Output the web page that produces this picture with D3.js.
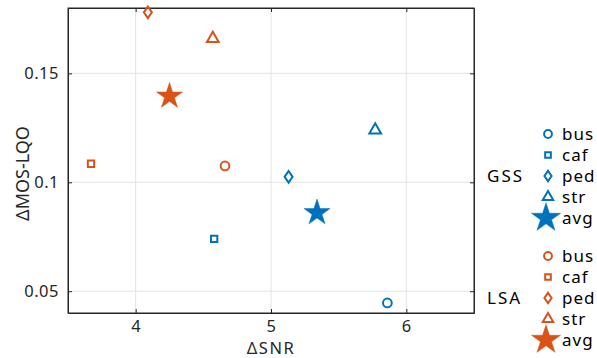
<!DOCTYPE html>
<html>
<head>
<meta charset="utf-8">
<script src="https://cdn.jsdelivr.net/npm/d3@7"></script>
<style>
  body { margin: 0; background: #fff; }
  text { font-family: "Noto Sans", sans-serif; }
</style>
</head>
<body>
<svg id="chart"></svg>
<script>
// noise types and methods
const noiseTypes = ["bus", "caf", "ped", "str", "avg"];
const methods = ["GSS", "LSA"];
const methodColors = ["#0072BD", "#D95319"];

// ΔSNR per noise type
const gssSNR = [5.86, 4.58, 5.13, 5.77, 5.34];
const lsaSNR = [4.66, 3.67, 4.09, 4.57, 4.25];
// ΔMOS-LQO per noise type
const gssMOS = [0.0446, 0.074, 0.1025, 0.124, 0.086];
const lsaMOS = [0.1075, 0.1085, 0.178, 0.166, 0.1395];

const xTicks = [4, 5, 6];
const yTicks = [0.05, 0.1, 0.15];

const width = 597, height = 358;
const margin = { top: 8, right: 123, bottom: 45, left: 68 };
const plotW = width - margin.left - margin.right;
const plotH = height - margin.top - margin.bottom;

const svg = d3.select("#chart").attr("width", width).attr("height", height);

const x = d3.scaleLinear().domain([3.5, 6.5]).range([0, plotW]);
const y = d3.scaleLinear().domain([0.04, 0.18]).range([plotH, 0]);

const g = svg.append("g").attr("transform", `translate(${margin.left},${margin.top})`);

// grid
g.selectAll(".gx").data(xTicks).enter().append("line")
  .attr("x1", d => x(d)).attr("x2", d => x(d)).attr("y1", 0).attr("y2", plotH)
  .attr("stroke", "#e3e3e3").attr("stroke-width", 1);
g.selectAll(".gy").data(yTicks).enter().append("line")
  .attr("y1", d => y(d)).attr("y2", d => y(d)).attr("x1", 0).attr("x2", plotW)
  .attr("stroke", "#e3e3e3").attr("stroke-width", 1);

// axes, ticks pointing inward like matlab
const fmtY = d => d === 0.1 ? "0.1" : d3.format(".2f")(d);
g.append("g").attr("transform", `translate(0,${plotH})`)
  .call(d3.axisBottom(x).tickValues(xTicks).tickSizeInner(-4).tickSizeOuter(0).tickPadding(7).tickFormat(d3.format("d")));
g.append("g")
  .call(d3.axisTop(x).tickValues(xTicks).tickSizeInner(-4).tickSizeOuter(0).tickFormat(""));
g.append("g")
  .call(d3.axisLeft(y).tickValues(yTicks).tickSizeInner(-4).tickSizeOuter(0).tickPadding(9).tickFormat(fmtY));
g.append("g").attr("transform", `translate(${plotW},0)`)
  .call(d3.axisRight(y).tickValues(yTicks).tickSizeInner(-4).tickSizeOuter(0).tickFormat(""));

g.selectAll(".domain").attr("stroke", "#262626");
g.selectAll(".tick line").attr("stroke", "#262626");
g.selectAll(".tick text").attr("font-size", 16.5).attr("fill", "#262626")
  .attr("letter-spacing", 0.5)
  .style("font-family", "Noto Sans, sans-serif");

g.append("rect").attr("width", plotW).attr("height", plotH)
  .attr("fill", "none").attr("stroke", "#262626").attr("stroke-width", 1);

// axis labels
svg.append("text").attr("x", margin.left + plotW / 2).attr("y", 354)
  .attr("text-anchor", "middle").attr("font-size", 16.5).attr("fill", "#262626")
  .attr("letter-spacing", 1.5)
  .text("ΔSNR");
svg.append("text")
  .attr("transform", `translate(29,${margin.top + plotH / 2 + 13}) rotate(-90)`)
  .attr("text-anchor", "middle").attr("font-size", 18).attr("fill", "#262626")
  .text("ΔMOS-LQO");

// marker shapes
function markerPath(type, scale) {
  const s = scale || 1;
  if (type === "bus") return d3.symbol(d3.symbolCircle, 60 * s)();
  if (type === "caf") return d3.symbol(d3.symbolSquare, 40 * s)();
  if (type === "ped") {
    const w = 4 * Math.sqrt(s), h = 5.8 * Math.sqrt(s);
    return `M0,${-h}L${w},0L0,${h}L${-w},0Z`;
  }
  if (type === "str") return d3.symbol(d3.symbolTriangle, 60 * s)();
  return d3.symbol(d3.symbolStar, 210 * s)();
}

function drawMarker(sel, type, color, s) {
  const filled = type === "avg";
  sel.append("path")
    .attr("d", markerPath(type, s))
    .attr("fill", filled ? color : "none")
    .attr("stroke", color)
    .attr("stroke-width", filled ? 0.5 : 2)
    .attr("stroke-linejoin", "miter");
}

const series = [
  { name: methods[0], color: methodColors[0], xs: gssSNR, ys: gssMOS },
  { name: methods[1], color: methodColors[1], xs: lsaSNR, ys: lsaMOS }
];

series.forEach(sr => {
  noiseTypes.forEach((t, i) => {
    const m = g.append("g").attr("transform", `translate(${x(sr.xs[i])},${y(sr.ys[i])})`);
    drawMarker(m, t, sr.color, 1);
  });
});

// legend
const legRowH = 21;
const legStarts = [134, 256];
series.forEach((sr, k) => {
  const y0 = legStarts[k];
  svg.append("text").attr("x", 487).attr("y", y0 + 2 * legRowH + 6)
    .attr("font-size", 17).attr("fill", "#000").attr("letter-spacing", 2)
    .text(sr.name);
  noiseTypes.forEach((t, i) => {
    const yy = y0 + i * legRowH;
    const m = svg.append("g").attr("transform", `translate(${t === "avg" ? 546 : 548},${yy})`);
    drawMarker(m, t, sr.color, t === "avg" ? 1.25 : 0.8);
    svg.append("text").attr("x", 562).attr("y", yy + 6)
      .attr("font-size", 17).attr("fill", "#000").attr("letter-spacing", 1)
      .text(t);
  });
});
</script>
</body>
</html>
